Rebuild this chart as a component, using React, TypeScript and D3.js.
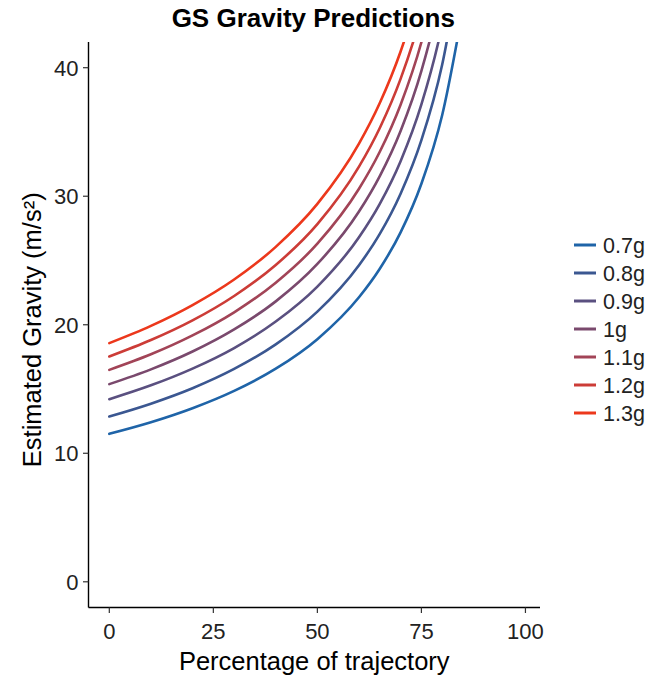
import React from "react";
import * as d3 from "d3";

const xPercent = [0, 10, 20, 30, 40, 50, 60, 65, 70, 75, 80, 85];
const g07 = [11.51, 12.41, 13.5, 14.85, 16.58, 18.88, 22.14, 24.36, 27.19, 30.97, 36.32, 44.6];
const g08 = [12.86, 13.86, 15.06, 16.56, 18.47, 21.02, 24.63, 27.07, 30.2, 34.36, 40.25, 49.36];
const g09 = [14.21, 15.29, 16.59, 18.19, 20.25, 22.97, 26.81, 29.41, 32.73, 37.14, 43.35, 52.91];
const g10 = [15.38, 16.53, 17.92, 19.64, 21.82, 24.73, 28.81, 31.57, 35.08, 39.75, 46.32, 56.41];
const g11 = [16.49, 17.7, 19.17, 20.97, 23.27, 26.31, 30.58, 33.46, 37.12, 41.98, 48.79, 59.23];
const g12 = [17.53, 18.81, 20.34, 22.24, 24.65, 27.83, 32.3, 35.31, 39.13, 44.2, 51.29, 62.13];
const g13 = [18.57, 19.91, 21.53, 23.52, 26.06, 29.4, 34.09, 37.25, 41.26, 46.56, 53.98, 65.32];

const seriesLabels = ["0.7g", "0.8g", "0.9g", "1g", "1.1g", "1.2g", "1.3g"];
const seriesValues = [g07, g08, g09, g10, g11, g12, g13];
const seriesColors = ["#1f64a8", "#3b5791", "#5a5080", "#7a496d", "#a24457", "#cc3c37", "#ec381c"];

const xTicks = [0, 25, 50, 75, 100];
const yTicks = [0, 10, 20, 30, 40];

const W = 662;
const H = 678;
const left = 88.5;
const right = 540;
const top = 42;
const bottom = 607.5;
const FONT = "'Liberation Sans', Arial, sans-serif";

export default function App() {
  const x = d3.scaleLinear().domain([-5, 103.5]).range([left, right]);
  const y = d3.scaleLinear().domain([-2, 42]).range([bottom, top]);
  const line = d3
    .line<[number, number]>()
    .x((d) => x(d[0]))
    .y((d) => y(d[1]))
    .curve(d3.curveMonotoneX);

  return (
    <svg
      width={W}
      height={H}
      style={{ position: "absolute", left: 0, top: 0, background: "#fff" }}
      fontFamily={FONT}
    >
      <defs>
        <clipPath id="plotclip">
          <rect x={left} y={top} width={right - left} height={bottom - top} />
        </clipPath>
      </defs>
      <rect x={0} y={0} width={W} height={H} fill="#fff" />
      <text x={(left + right) / 2 - 1} y={27} textAnchor="middle" fontSize={26} fontWeight="bold" fill="#000">
        GS Gravity Predictions
      </text>

      <g clipPath="url(#plotclip)">
        {seriesValues.map((vals, i) => (
          <path
            key={seriesLabels[i]}
            d={line(xPercent.map((p, j) => [p, vals[j]] as [number, number])) || ""}
            fill="none"
            stroke={seriesColors[i]}
            strokeWidth={2.6}
            strokeLinecap="round"
          />
        ))}
      </g>

      {/* axes */}
      <line x1={left} x2={left} y1={top} y2={bottom} stroke="#000" strokeWidth={1.4} />
      <line x1={left} x2={right} y1={bottom} y2={bottom} stroke="#000" strokeWidth={1.4} />

      {yTicks.map((t) => (
        <g key={"y" + t}>
          <line x1={left - 5.5} x2={left} y1={y(t)} y2={y(t)} stroke="#333" strokeWidth={1.2} />
          <text x={left - 10} y={y(t)} dy="0.36em" textAnchor="end" fontSize={22} fill="#222">
            {t}
          </text>
        </g>
      ))}
      {xTicks.map((t) => (
        <g key={"x" + t}>
          <line x1={x(t)} x2={x(t)} y1={bottom} y2={bottom + 5.5} stroke="#333" strokeWidth={1.2} />
          <text x={x(t)} y={bottom + 31} textAnchor="middle" fontSize={22} fill="#222">
            {t}
          </text>
        </g>
      ))}

      <text x={(left + right) / 2} y={670} textAnchor="middle" fontSize={25.5} fill="#000">
        Percentage of trajectory
      </text>
      <text
        transform={`translate(41, ${(top + bottom) / 2 + 5}) rotate(-90)`}
        textAnchor="middle"
        fontSize={25.5}
        fill="#000"
      >
        Estimated Gravity (m/s²)
      </text>

      {/* legend */}
      {seriesLabels.map((lab, i) => {
        const cy = 245 + i * 28;
        return (
          <g key={"lg" + lab}>
            <line x1={574} x2={596} y1={cy} y2={cy} stroke={seriesColors[i]} strokeWidth={3} />
            <text x={603} y={cy} dy="0.36em" fontSize={21.5} fill="#222">
              {lab}
            </text>
          </g>
        );
      })}
    </svg>
  );
}
